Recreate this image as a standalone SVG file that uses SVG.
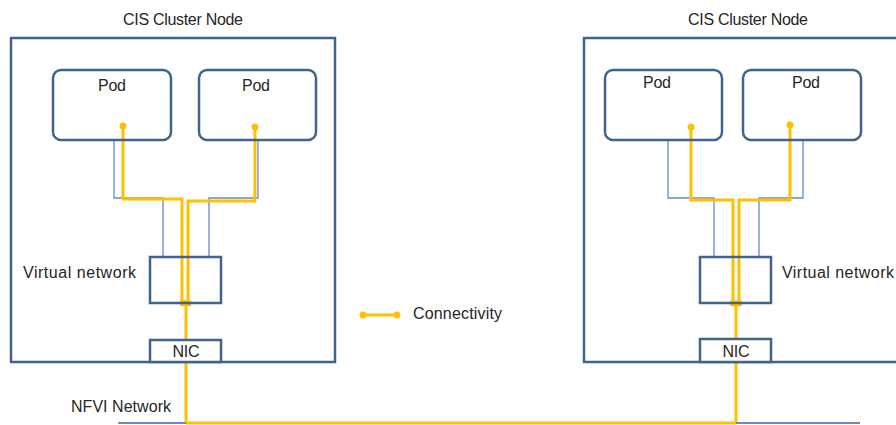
<svg xmlns="http://www.w3.org/2000/svg" width="896" height="425" viewBox="0 0 896 425">
<defs>
<style>
.box{fill:none;stroke:#41638f;stroke-width:2.5}
.pod{fill:none;stroke:#41638f;stroke-width:2.5}
.thin{fill:none;stroke:#5f8ecb;stroke-width:1.3}
.conn{fill:none;stroke:#ffc000;stroke-width:3;stroke-linejoin:miter}
.dot{fill:#ffc000}
text{font-family:"Liberation Sans",Arial,sans-serif;font-size:16px;fill:#262626}
.c{text-anchor:middle}
</style>
</defs>
<rect width="896" height="425" fill="#fff"/>
<g id="connectors">
<polyline class="thin" points="114,140 114,198 163,198 163,257"/>
<polyline class="thin" points="258,140 258,198 209,198 209,257"/>
<polyline class="thin" points="668,140 668,198 714,198 714,257"/>
<polyline class="thin" points="803,140 803,198 759,198 759,257"/>
<polyline class="conn" points="123,126 123,199 182,199 182,303"/>
<polyline class="conn" points="255,127 255,201 188,201 188,303"/>
<line class="conn" x1="186" y1="303" x2="186" y2="423"/>
<circle class="dot" cx="123" cy="126" r="3.5"/>
<circle class="dot" cx="255" cy="127" r="3.5"/>
<circle class="dot" cx="183" cy="303" r="3.5"/>
<circle class="dot" cx="188" cy="303" r="3.5"/>
<polyline class="conn" points="691,127 691,200 733,200 733,303"/>
<polyline class="conn" points="790,125 790,200 739,200 739,303"/>
<line class="conn" x1="736" y1="303" x2="736" y2="423"/>
<circle class="dot" cx="691" cy="127" r="3.5"/>
<circle class="dot" cx="790" cy="125" r="3.5"/>
<circle class="dot" cx="733" cy="303" r="3.5"/>
<circle class="dot" cx="739" cy="303" r="3.5"/>
<line class="thin" x1="118" y1="423" x2="186" y2="423" style="stroke-width:2"/>
<line class="conn" x1="186" y1="423" x2="736" y2="423"/>
<line class="thin" x1="736" y1="423" x2="860" y2="423" style="stroke-width:2"/>
</g>
<g id="cluster-left">
<rect class="box" x="11" y="38" width="324" height="324"/>
<text class="c" x="183" y="25" textLength="120">CIS Cluster Node</text>
</g>
<g id="pod-left-1">
<rect class="pod" x="53" y="70" width="118" height="70" rx="8"/>
<text class="c" x="112" y="91" textLength="28">Pod</text>
</g>
<g id="pod-left-2">
<rect class="pod" x="199" y="70" width="117" height="70" rx="8"/>
<text class="c" x="256" y="91" textLength="28">Pod</text>
</g>
<g id="vnet-left">
<rect class="box" x="150" y="257" width="71" height="46"/>
<text x="23" y="278" textLength="113">Virtual network</text>
</g>
<g id="nic-left">
<rect class="box" x="150" y="340" width="71" height="22" style="fill:#fff"/>
<text class="c" x="186" y="357" textLength="27">NIC</text>
</g>
<g id="cluster-right">
<path class="box" d="M898,38 H584 V362 H898"/>
<text class="c" x="748" y="25" textLength="120">CIS Cluster Node</text>
</g>
<g id="pod-right-1">
<rect class="pod" x="605" y="70" width="117" height="70" rx="8"/>
<text class="c" x="657" y="88" textLength="28">Pod</text>
</g>
<g id="pod-right-2">
<rect class="pod" x="743" y="70" width="118" height="70" rx="8"/>
<text class="c" x="806" y="88" textLength="28">Pod</text>
</g>
<g id="vnet-right">
<rect class="box" x="700" y="257" width="71" height="46"/>
<text x="782" y="278" textLength="112">Virtual network</text>
</g>
<g id="nic-right">
<rect class="box" x="700" y="339" width="71" height="23" style="fill:#fff"/>
<text class="c" x="736" y="357" textLength="27">NIC</text>
</g>
<g id="nfvi">
<text x="71" y="412" textLength="100">NFVI Network</text>
</g>
<g id="legend">
<line class="conn" x1="363" y1="315" x2="397" y2="315"/>
<circle class="dot" cx="363" cy="315" r="3.5"/>
<circle class="dot" cx="397" cy="315" r="3.5"/>
<text x="413" y="319" textLength="89">Connectivity</text>
</g>
</svg>
